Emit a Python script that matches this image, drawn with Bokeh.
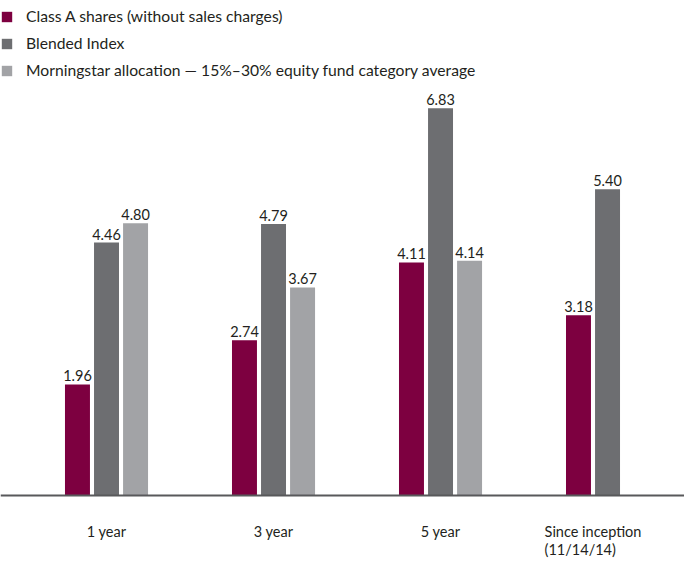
from bokeh.plotting import figure
from bokeh.models import (FactorRange, ColumnDataSource, Range1d, Legend, LegendItem,
                          LabelSet, Span)
from bokeh.core.properties import value
from bokeh.embed import file_html
from bokeh.resources import INLINE

categories = ["1 year", "3 year", "5 year", "Since inception\n(11/14/14)"]
series_names = ["Class A shares (without sales charges)", "Blended Index",
                "Morningstar allocation \u2014 15%\u201330% equity fund category average"]
series_keys = ["A", "B", "M"]
class_a = [1.96, 2.74, 4.11, 3.18]
blended = [4.46, 4.79, 6.83, 5.40]
morningstar = [4.80, 3.67, 4.14, None]
colors = ["#7d0040", "#6d6e71", "#a2a3a6"]

FONT = "Lato"
TEXT = "#231f20"

series_values = [class_a, blended, morningstar]

factors = []
for i, c in enumerate(categories):
    for k, vals in zip(series_keys, series_values):
        if vals[i] is not None:
            factors.append((c, k))

x_range = FactorRange(*factors, group_padding=2.75, range_padding=2.15,
                      range_padding_units="absolute")

H = 560
W = 684
p = figure(width=W, height=H, x_range=x_range, y_range=Range1d(-1.146, 8.730),
           output_backend="svg", toolbar_location=None,
           min_border_left=0, min_border_right=0, min_border_top=0, min_border_bottom=0)

p.outline_line_color = None
p.xgrid.grid_line_color = None
p.ygrid.grid_line_color = None
p.xaxis.visible = False
p.yaxis.visible = False

items = []
for k, vals, col, name in zip(series_keys, series_values, colors, series_names):
    xs = [(c, k) for c, v in zip(categories, vals) if v is not None]
    ys = [v for v in vals if v is not None]
    src = ColumnDataSource(dict(x=xs, top=ys, lab=["%.2f" % v for v in ys]))
    r = p.vbar(x="x", top="top", width=0.86, source=src, fill_color=col, line_color=None)
    items.append(LegendItem(label=name, renderers=[r]))
    lbl = LabelSet(x="x", y="top", text="lab", source=src, text_align="center",
                   text_baseline="bottom", y_offset=3, text_font=value(FONT),
                   text_font_size="14.5px", text_color=TEXT)
    p.add_layout(lbl)

p.add_layout(Span(location=0, dimension="width", line_color="#58595b", line_width=2))

cat_src = ColumnDataSource(dict(x=categories, y=[0] * len(categories), t=categories))
p.add_layout(LabelSet(x="x", y="y", text="t", source=cat_src, text_align="center",
                      text_baseline="top", y_offset=-27, text_font=value(FONT),
                      text_font_size="14.5px", text_color=TEXT, text_line_height=1.1))

legend_h = 3 * 20 + 2 * 7
legend = Legend(items=items, location=(0, H - legend_h - 6), margin=0, padding=0,
                glyph_width=13, glyph_height=13, label_height=20, spacing=7,
                label_standoff=13, label_text_font=FONT, label_text_font_size="15.7px",
                label_text_color=TEXT, border_line_color=None, background_fill_alpha=0)
p.add_layout(legend, "center")

open("out.html", "w").write(file_html(p, INLINE))
